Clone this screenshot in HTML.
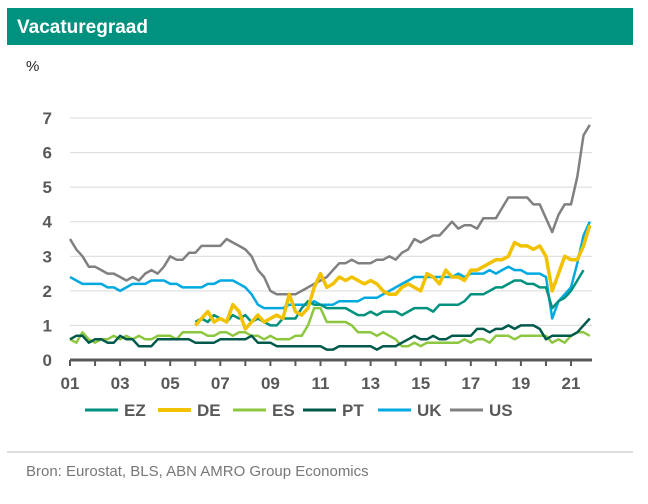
<!DOCTYPE html>
<html><head><meta charset="utf-8"><style>
body{margin:0;width:648px;height:499px;background:#fff;font-family:"Liberation Sans",sans-serif;overflow:hidden}
</style></head><body>
<svg width="648" height="499" id="c">
<rect x="7" y="8" width="626" height="37" fill="#00927f"/>
<text x="17" y="33" fill="#fff" font-size="19" font-weight="bold">Vacaturegraad</text>
<text x="26" y="71" fill="#222" font-size="15">%</text>
<line x1="7" y1="452" x2="633" y2="452" stroke="#bbb" stroke-width="1"/>
<text x="26" y="476" fill="#777" font-size="15">Bron: Eurostat, BLS, ABN AMRO Group Economics</text>
</svg>
<script>
const yTicks=[0,1,2,3,4,5,6,7];
const xLabels=["01","03","05","07","09","11","13","15","17","19","21"];
const xLabelYears=[2001,2003,2005,2007,2009,2011,2013,2015,2017,2019,2021];
const us=[3.5,3.2,3.0,2.7,2.7,2.6,2.5,2.5,2.4,2.3,2.4,2.3,2.5,2.6,2.5,2.7,3.0,2.9,2.9,3.1,3.1,3.3,3.3,3.3,3.3,3.5,3.4,3.3,3.2,3.0,2.6,2.4,2.0,1.9,1.9,1.9,1.9,2.0,2.1,2.2,2.3,2.4,2.6,2.8,2.8,2.9,2.8,2.8,2.8,2.9,2.9,3.0,2.9,3.1,3.2,3.5,3.4,3.5,3.6,3.6,3.8,4.0,3.8,3.9,3.9,3.8,4.1,4.1,4.1,4.4,4.7,4.7,4.7,4.7,4.5,4.5,4.1,3.7,4.2,4.5,4.5,5.3,6.5,6.8];
const uk=[2.4,2.3,2.2,2.2,2.2,2.2,2.1,2.1,2.0,2.1,2.2,2.2,2.2,2.3,2.3,2.3,2.2,2.2,2.1,2.1,2.1,2.1,2.2,2.2,2.3,2.3,2.3,2.2,2.1,1.9,1.6,1.5,1.5,1.5,1.5,1.6,1.6,1.6,1.6,1.7,1.6,1.6,1.6,1.7,1.7,1.7,1.7,1.8,1.8,1.8,1.9,2.0,2.1,2.2,2.3,2.4,2.4,2.4,2.4,2.4,2.4,2.4,2.5,2.4,2.5,2.5,2.5,2.6,2.5,2.6,2.7,2.6,2.6,2.5,2.5,2.5,2.4,1.2,1.7,1.9,2.1,2.8,3.6,4.0];
const de=[null,null,null,null,null,null,null,null,null,null,null,null,null,null,null,null,null,null,null,null,1.0,1.2,1.4,1.1,1.2,1.1,1.6,1.4,0.9,1.1,1.3,1.1,1.2,1.3,1.2,1.9,1.4,1.3,1.5,2.1,2.5,2.1,2.2,2.4,2.3,2.4,2.3,2.2,2.3,2.2,2.0,1.9,1.9,2.1,2.2,2.1,2.0,2.5,2.4,2.2,2.6,2.4,2.4,2.3,2.6,2.6,2.7,2.8,2.9,2.9,3.0,3.4,3.3,3.3,3.2,3.3,3.0,2.0,2.5,3.0,2.9,2.9,3.3,3.9];
const ez=[null,null,null,null,null,null,null,null,null,null,null,null,null,null,null,null,null,null,null,null,1.1,1.2,1.1,1.3,1.2,1.1,1.3,1.2,1.3,1.1,1.2,1.1,1.0,1.0,1.2,1.2,1.2,1.5,1.7,1.6,1.6,1.5,1.5,1.5,1.5,1.4,1.3,1.3,1.4,1.3,1.4,1.4,1.4,1.3,1.4,1.5,1.5,1.5,1.4,1.6,1.6,1.6,1.6,1.7,1.9,1.9,1.9,2.0,2.1,2.1,2.2,2.3,2.3,2.2,2.2,2.1,2.1,1.5,1.7,1.8,2.0,2.3,2.6];
const es=[0.6,0.5,0.8,0.6,0.5,0.6,0.6,0.7,0.6,0.7,0.6,0.7,0.6,0.6,0.7,0.7,0.7,0.6,0.8,0.8,0.8,0.8,0.7,0.7,0.8,0.8,0.7,0.8,0.8,0.7,0.7,0.6,0.7,0.6,0.6,0.6,0.7,0.7,1.0,1.5,1.5,1.1,1.1,1.1,1.1,1.0,0.8,0.8,0.8,0.7,0.8,0.7,0.6,0.4,0.4,0.5,0.4,0.5,0.5,0.5,0.5,0.5,0.5,0.6,0.5,0.6,0.6,0.5,0.7,0.7,0.7,0.6,0.7,0.7,0.7,0.7,0.7,0.5,0.6,0.5,0.7,0.8,0.8,0.7];
const pt=[0.6,0.7,0.7,0.5,0.6,0.6,0.5,0.5,0.7,0.6,0.6,0.4,0.4,0.4,0.6,0.6,0.6,0.6,0.6,0.6,0.5,0.5,0.5,0.5,0.6,0.6,0.6,0.6,0.6,0.7,0.5,0.5,0.5,0.4,0.4,0.4,0.4,0.4,0.4,0.4,0.4,0.3,0.3,0.4,0.4,0.4,0.4,0.4,0.4,0.3,0.4,0.4,0.4,0.5,0.6,0.7,0.6,0.6,0.7,0.6,0.6,0.7,0.7,0.7,0.7,0.9,0.9,0.8,0.9,0.9,1.0,0.9,1.0,1.0,1.0,0.9,0.6,0.7,0.7,0.7,0.7,0.8,1.0,1.2];
const seriesNames=["EZ","DE","ES","PT","UK","US"];
const NS="http://www.w3.org/2000/svg";
const svg=document.getElementById('c');
const x0=70,x1=592,yb=360,yt=118;
const X=i=>x0+i*(25.05/4);
const Xy=yr=>x0+(yr-2001)*25.05;
const Y=v=>yb-(v/7)*(yb-yt);
function mk(t,a){const e=document.createElementNS(NS,t);for(const k in a)e.setAttribute(k,a[k]);svg.appendChild(e);return e;}
yTicks.forEach(v=>{
 if(v>0){const g=mk('line',{x1:x0,x2:x1,y1:Y(v),y2:Y(v),stroke:'#d9d9d9','stroke-width':1});
 
 }
 const t=mk('text',{x:52,y:Y(v)+6,'text-anchor':'end','font-size':17,'font-weight':'bold',fill:'#595959'});t.textContent=v;
 
 
});
const ax=mk('line',{x1:x0,x2:x1,y1:yb,y2:yb,stroke:'#595959','stroke-width':3});


for(let yr=2001;yr<=2021;yr++){const tk=mk('line',{x1:Xy(yr),x2:Xy(yr),y1:yb,y2:yb+6,stroke:'#595959','stroke-width':2});
 
 }
xLabels.forEach((l,i)=>{const t=mk('text',{x:Xy(xLabelYears[i]),y:389,'text-anchor':'middle','font-size':17,'font-weight':'bold',fill:'#595959'});t.textContent=l;
 
 });
function line(arr,col,w,name){let d='',pen=false;arr.forEach((v,i)=>{if(v==null){pen=false;return;}d+=(pen?'L':'M')+X(i).toFixed(1)+' '+Y(v).toFixed(1);pen=true;});
 const p=mk('path',{d:d,fill:'none',stroke:col,'stroke-width':w,'stroke-linejoin':'round'});
 
 }
line(us,'#808080',2.5,'series-us');
line(uk,'#00a9e0',2.5,'series-uk');
line(es,'#8dc63f',2.5,'series-es');
line(pt,'#005a4b',2.5,'series-pt');
line(ez,'#00927f',2.5,'series-ez');
line(de,'#f2c100',3.5,'series-de');
const legCols=['#00927f','#f2c100','#8dc63f','#005a4b','#00a9e0','#808080'];
const legX=[85,158,233,303,378,450];
seriesNames.forEach((n,i)=>{const l=mk('line',{x1:legX[i],x2:legX[i]+33,y1:410,y2:410,stroke:legCols[i],'stroke-width':i==1?4:3});
 
 
 const t=mk('text',{x:legX[i]+39,y:416,'font-size':17,'font-weight':'bold',fill:'#595959'});t.textContent=n;
 
 });
</script>
</body></html>
